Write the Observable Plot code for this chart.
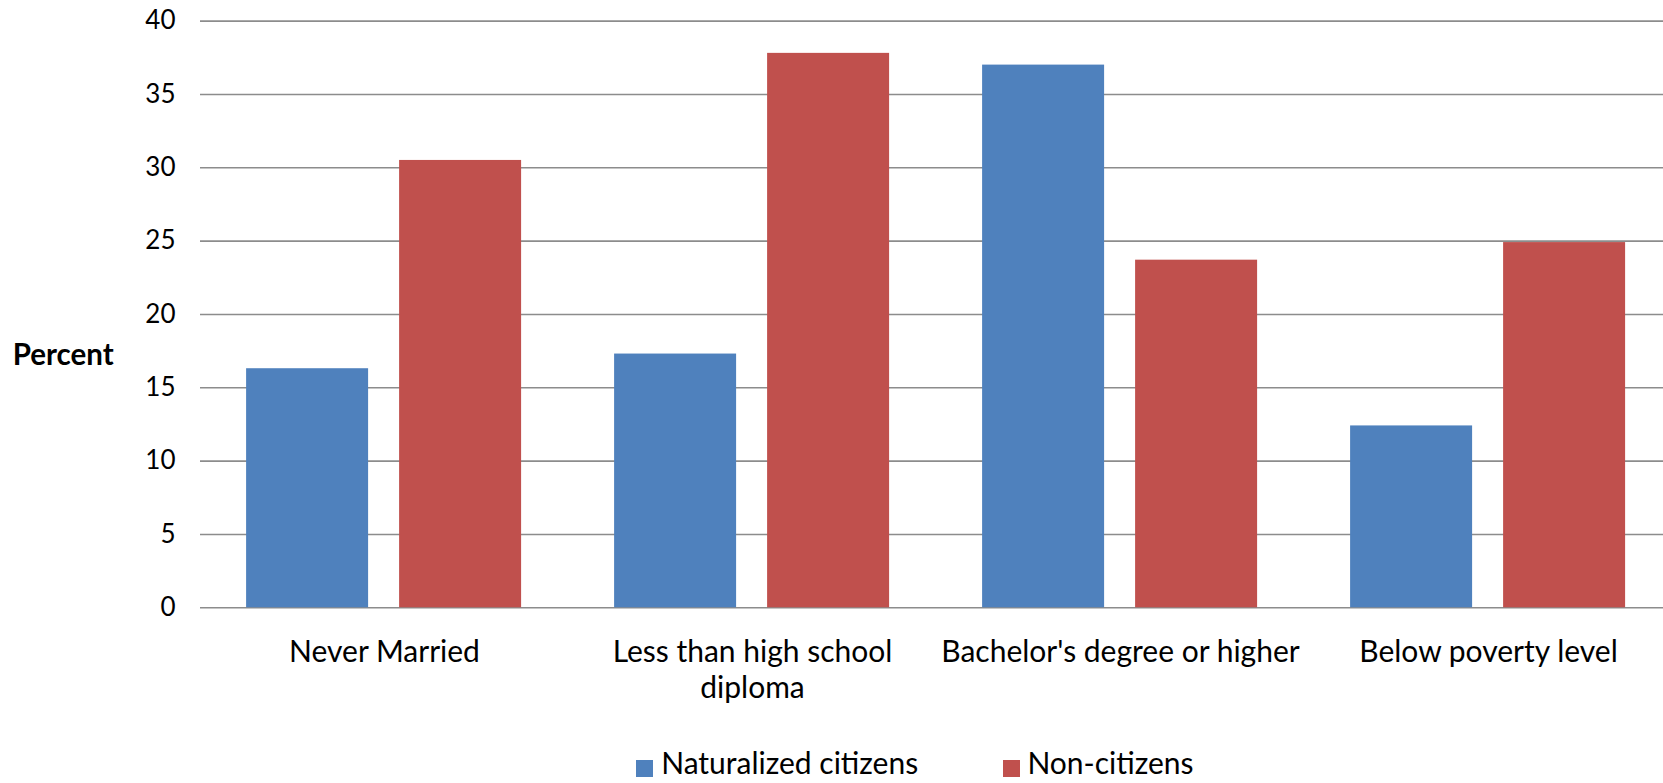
<!DOCTYPE html>
<html>
<head>
<meta charset="utf-8">
<script src="https://cdn.jsdelivr.net/npm/d3@7"></script>
<script src="https://cdn.jsdelivr.net/npm/@observablehq/plot@0.6"></script>
<style>
  html, body { margin: 0; padding: 0; background: #fff; overflow: hidden; }
  #wrap { position: relative; width: 1663px; height: 783px; overflow: hidden; background: #fff; font-family: Lato, "Open Sans", sans-serif; color: #000; }
  #wrap svg { display: block; max-width: none; }
  #ylabel { position: absolute; left: 12.7px; top: 339px; font-size: 29.5px; line-height: 30px; font-weight: bold; }
  .leg { position: absolute; top: 747px; font-size: 30px; line-height: 30px; white-space: nowrap; }
  .sw { position: absolute; top: 760px; width: 17px; height: 17px; }
</style>
</head>
<body>
<div id="wrap">
  <div id="ylabel">Percent</div>
  <div id="legend"></div>
</div>
<script>
const categories = ["Never Married", "Less than high school\ndiploma", "Bachelor's degree or higher", "Below poverty level"];
const series = ["Naturalized citizens", "Non-citizens"];
const naturalized = [16.3, 17.3, 37.0, 12.4];
const nonCitizens = [30.5, 37.8, 23.7, 24.9];
const yTicks = [0, 5, 10, 15, 20, 25, 30, 35, 40];
const colors = ["#4F81BD", "#C0504D"];

const rows = [];
categories.forEach((c, i) => {
  rows.push({category: c, series: series[0], value: naturalized[i]});
  rows.push({category: c, series: series[1], value: nonCitizens[i]});
});

const chart = Plot.plot({
  width: 1663,
  height: 783,
  marginTop: 20.6,
  marginBottom: 175.7,
  marginLeft: 197.9,
  marginRight: -10.4,
  style: {fontFamily: "Lato, 'Open Sans', sans-serif", color: "#000", background: "#fff", overflow: "hidden"},
  fx: {domain: categories, paddingInner: 0, paddingOuter: 0, label: null},
  x: {domain: series, paddingInner: 0.2, paddingOuter: 0.3, axis: null},
  y: {domain: [0, 40], label: null},
  color: {domain: series, range: colors},
  marks: [
    Plot.gridY(yTicks, {stroke: "#8c8c8c", strokeOpacity: 1, strokeWidth: 1.6}),
    Plot.axisY(yTicks, {tickSize: 0, tickPadding: 25, fontSize: 26, label: null, fill: "#000"}),
    Plot.barY(rows, {fx: "category", x: "series", y: "value", fill: "series"}),
    Plot.axisFx({anchor: "bottom", tickSize: 0, tickPadding: 29, fontSize: 30, lineHeight: 1.2, label: null, fill: "#000"})
  ]
});

const wrap = document.getElementById("wrap");
wrap.insertBefore(chart, wrap.firstChild);

const legend = document.getElementById("legend");
const swLeft = [636.4, 1002.6];
series.forEach((s, i) => {
  const sw = document.createElement("div");
  sw.className = "sw";
  sw.style.left = swLeft[i] + "px";
  sw.style.background = colors[i];
  legend.appendChild(sw);
  const t = document.createElement("div");
  t.className = "leg";
  t.style.left = (swLeft[i] + 24.8) + "px";
  t.textContent = s;
  legend.appendChild(t);
});
</script>
</body>
</html>
